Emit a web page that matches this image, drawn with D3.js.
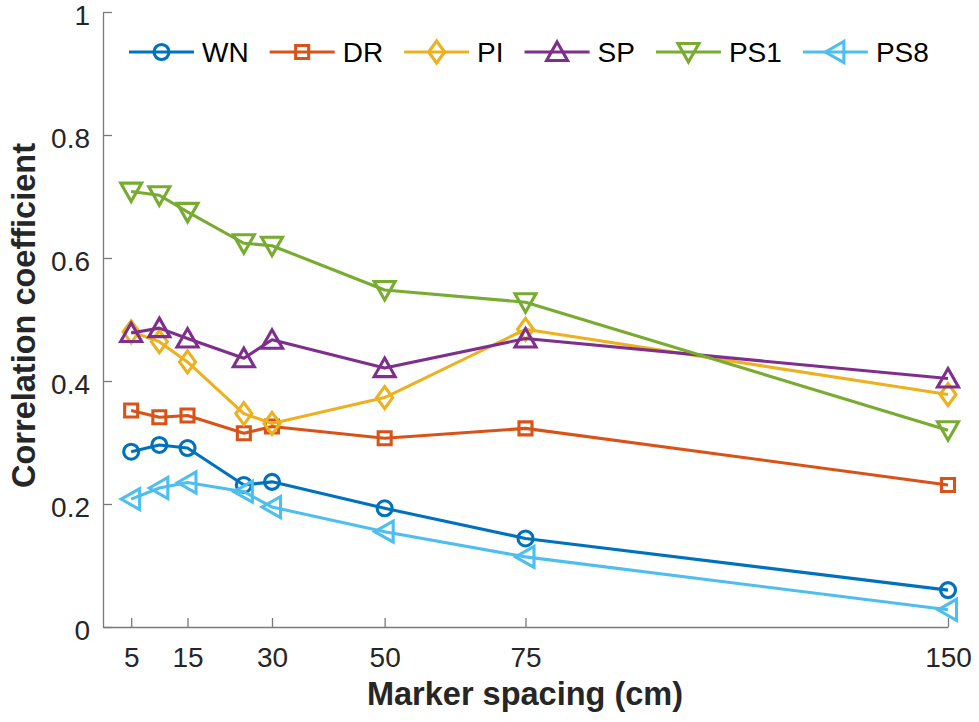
<!DOCTYPE html>
<html>
<head>
<meta charset="utf-8">
<script src="https://cdn.jsdelivr.net/npm/d3@7"></script>
<style>
  html, body { margin: 0; padding: 0; background: #fff; }
  svg { display: block; font-family: "Liberation Sans", Arial, Helvetica, sans-serif; }
</style>
</head>
<body>
<svg id="chart" width="979" height="722"></svg>
<script>
// ---- data ----
const spacing = [5, 10, 15, 25, 30, 50, 75, 150];
const xTicks = [5, 15, 30, 50, 75, 150];
const yTicks = [0, 0.2, 0.4, 0.6, 0.8, 1];
const seriesNames = ["WN", "DR", "PI", "SP", "PS1", "PS8"];
const WN  = [0.285, 0.296, 0.291, 0.231, 0.236, 0.193, 0.144, 0.060];
const DR  = [0.352, 0.341, 0.344, 0.315, 0.326, 0.307, 0.323, 0.231];
const PI  = [0.480, 0.464, 0.431, 0.347, 0.331, 0.373, 0.484, 0.378];
const SP  = [0.478, 0.486, 0.469, 0.437, 0.467, 0.421, 0.469, 0.404];
const PS1 = [0.708, 0.702, 0.675, 0.624, 0.620, 0.548, 0.528, 0.320];
const PS8 = [0.208, 0.226, 0.235, 0.220, 0.195, 0.155, 0.114, 0.028];
const seriesValues = [WN, DR, PI, SP, PS1, PS8];
const colors = ["#0072BD", "#D95319", "#EDB120", "#7E2F8E", "#77AC30", "#4DBEEE"];
const markers = ["circle", "square", "diamond", "triUp", "triDown", "triLeft"];

// ---- layout ----
const svg = d3.select("#chart");
const x = d3.scaleLinear().domain([0, 150]).range([103, 948]);
const y = d3.scaleLinear().domain([0, 1]).range([627, 12]);
const axisColor = "#7a7a7a";
const textColor = "#262626";
const lw = 3.1;

function markerPath(type) {
  switch (type) {
    case "circle": return d3.arc()({innerRadius: 0, outerRadius: 7.5, startAngle: 0, endAngle: 2 * Math.PI});
    case "square": return "M-6.5,-6.5H6.5V6.5H-6.5Z";
    case "diamond": return "M0,-11L8,0L0,11L-8,0Z";
    case "triUp": return "M0,-10L10.5,8.5L-10.5,8.5Z";
    case "triDown": return "M0,10L10.5,-8.5L-10.5,-8.5Z";
    case "triLeft": return "M-10,0L8.5,-10.5L8.5,10.5Z";
  }
}

// axes
const yAxis = d3.axisLeft(y).tickValues(yTicks).tickSizeInner(-9).tickSizeOuter(0)
  .tickPadding(13).tickFormat(d => d3.format("~g")(d));
const xAxis = d3.axisBottom(x).tickValues(xTicks).tickSizeInner(-9).tickSizeOuter(0)
  .tickPadding(20).tickFormat(d => String(d));

const gy = svg.append("g").attr("transform", `translate(${x.range()[0]},0)`).call(yAxis);
const gx = svg.append("g").attr("transform", `translate(0,${y.range()[0]})`).call(xAxis);
[gx, gy].forEach(g => {
  g.select(".domain").attr("stroke", axisColor).attr("stroke-width", 1.3);
  g.selectAll(".tick line").attr("stroke", axisColor).attr("stroke-width", 1.3);
  g.selectAll(".tick text").attr("fill", textColor).attr("font-size", 28)
    .attr("font-family", "'Liberation Sans', Arial, Helvetica, sans-serif");
});
gy.selectAll(".tick text").attr("dy", "0.45em");

// axis titles
svg.append("text").attr("x", 525).attr("y", 705).attr("text-anchor", "middle")
  .attr("font-size", 32.5).attr("font-weight", "bold").attr("fill", textColor)
  .text("Marker spacing (cm)");
svg.append("text").attr("transform", "translate(35,315.5) rotate(-90)").attr("text-anchor", "middle")
  .attr("font-size", 32.5).attr("font-weight", "bold").attr("fill", textColor)
  .text("Correlation coefficient");

// series
const line = d3.line().x(d => x(d[0])).y(d => y(d[1]));
const plot = svg.append("g");
seriesNames.forEach((name, i) => {
  const pts = spacing.map((s, j) => [s, seriesValues[i][j]]);
  const g = plot.append("g");
  g.append("path").attr("d", line(pts)).attr("fill", "none")
    .attr("stroke", colors[i]).attr("stroke-width", lw).attr("stroke-linejoin", "round");
  g.selectAll("path.mk").data(pts).join("path").attr("class", "mk")
    .attr("transform", d => `translate(${x(d[0])},${y(d[1])})`)
    .attr("d", markerPath(markers[i]))
    .attr("fill", "none").attr("stroke", colors[i]).attr("stroke-width", lw)
    .attr("stroke-linejoin", "miter");
});

// legend
const legend = svg.append("g");
let lx = 129;
const ly = 52;
seriesNames.forEach((name, i) => {
  const g = legend.append("g");
  g.append("line").attr("x1", lx).attr("x2", lx + 65).attr("y1", ly).attr("y2", ly)
    .attr("stroke", colors[i]).attr("stroke-width", lw);
  g.append("path").attr("transform", `translate(${lx + 32.5},${ly})`).attr("d", markerPath(markers[i]))
    .attr("fill", "none").attr("stroke", colors[i]).attr("stroke-width", lw).attr("stroke-linejoin", "miter");
  const t = g.append("text").attr("x", lx + 73).attr("y", ly).attr("dy", "0.36em")
    .attr("font-size", 28).attr("fill", "#000").text(name);
  lx = lx + 73 + t.node().getComputedTextLength() + 21;
});
</script>
</body>
</html>
